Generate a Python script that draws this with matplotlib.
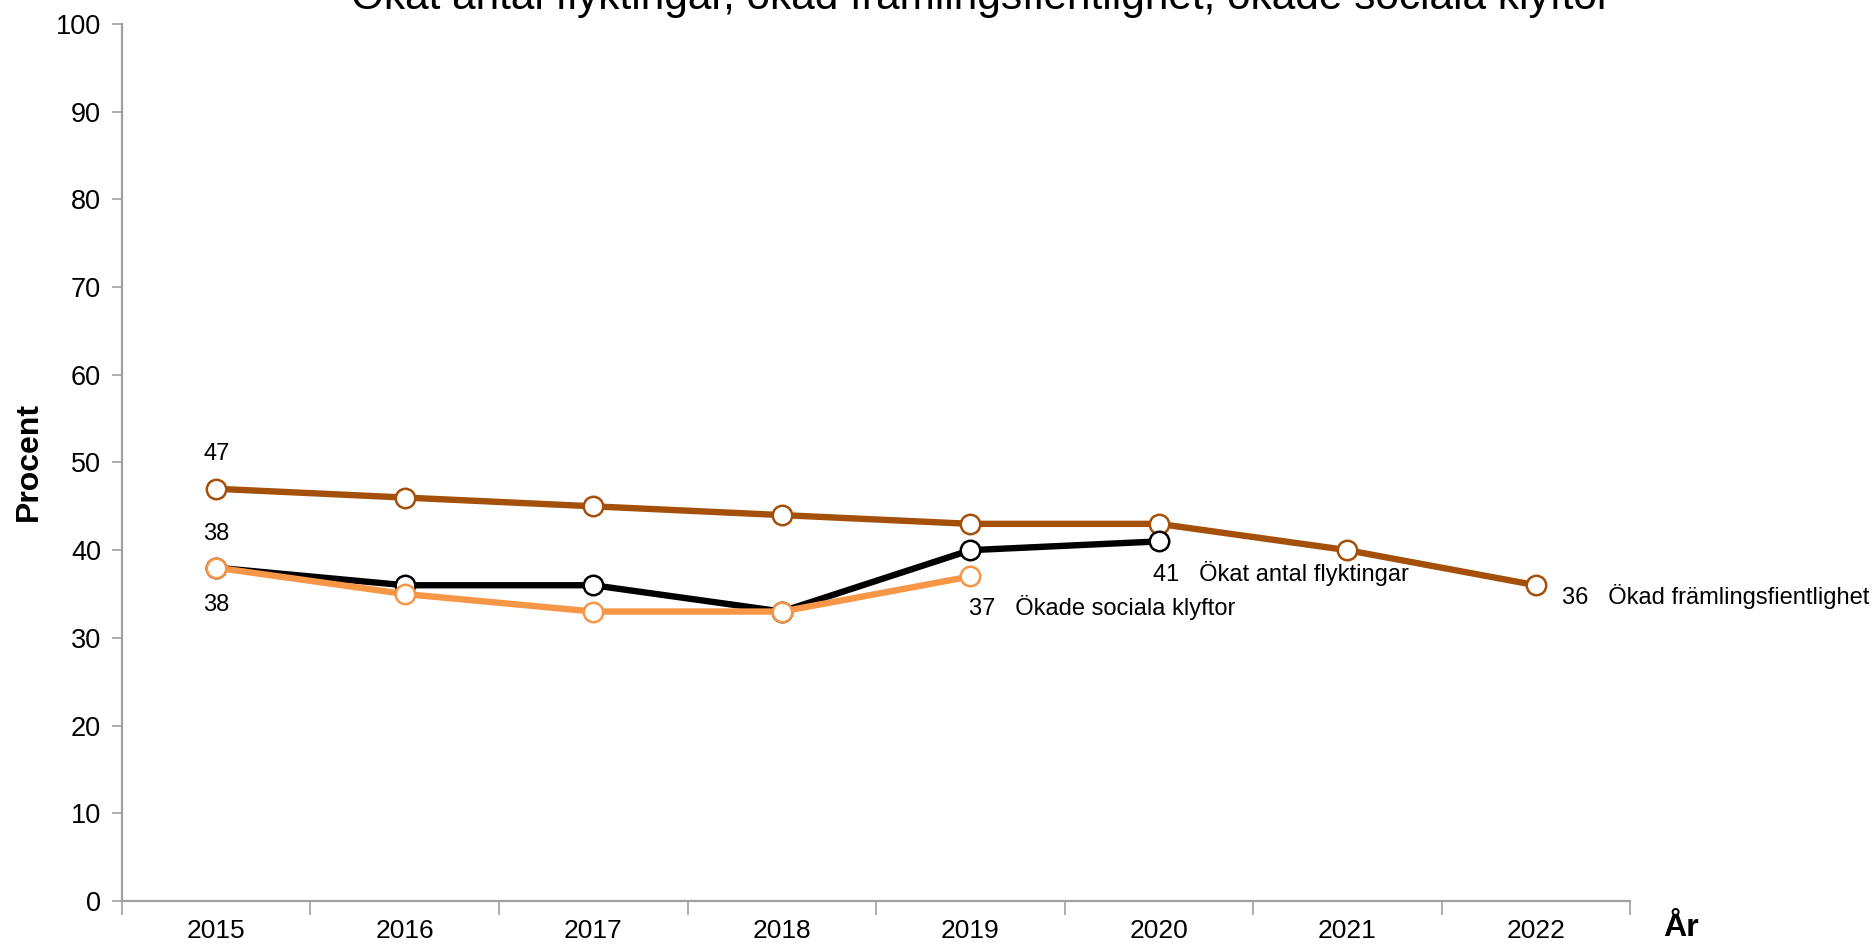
import matplotlib
matplotlib.use("Agg")
import matplotlib.pyplot as plt

plt.rcParams['font.family'] = ['Liberation Sans', 'DejaVu Sans']

# Data
years = ['2015', '2016', '2017', '2018', '2019', '2020', '2021', '2022']
framling = [47, 46, 45, 44, 43, 43, 40, 36]
flykt = [38, 36, 36, 33, 40, 41]
klyftor = [38, 35, 33, 33, 37]

c_framling = '#A5500A'
c_flykt = '#000000'
c_klyftor = '#F79646'
grey = '#A0A0A0'

fig = plt.figure(figsize=(18.76, 9.44), dpi=100)
ax = fig.add_axes([0.065, 0.0456, 0.804, 0.929])

x_all = list(range(len(years)))

def draw(vals, color, z):
    ax.plot(x_all[:len(vals)], vals, color=color, lw=4.6, marker='o', ms=14,
            mfc='white', mec=color, mew=1.8, zorder=z, clip_on=False)

draw(framling, c_framling, 3)
draw(flykt, c_flykt, 4)
draw(klyftor, c_klyftor, 5)

fs = 17
# Start labels
ax.annotate(str(framling[0]), (0, framling[0]), xytext=(0, 35), textcoords='offset pixels',
            ha='center', va='center', fontsize=fs)
ax.annotate(str(flykt[0]), (0, flykt[0]), xytext=(0, 34), textcoords='offset pixels',
            ha='center', va='center', fontsize=fs)
ax.annotate(str(klyftor[0]), (0, klyftor[0]), xytext=(0, -37), textcoords='offset pixels',
            ha='center', va='center', fontsize=fs)
# End labels
ax.annotate(f"{flykt[-1]}   Ökat antal flyktingar", (len(flykt) - 1, flykt[-1]),
            xytext=(-6, -32), textcoords='offset pixels', ha='left', va='center', fontsize=fs)
ax.annotate(f"{klyftor[-1]}   Ökade sociala klyftor", (len(klyftor) - 1, klyftor[-1]),
            xytext=(-1, -31), textcoords='offset pixels', ha='left', va='center', fontsize=fs)
ax.annotate(f"{framling[-1]}   Ökad främlingsfientlighet", (len(framling) - 1, framling[-1]),
            xytext=(26, -11), textcoords='offset pixels', ha='left', va='center', fontsize=fs,
            annotation_clip=False)

ax.set_xlim(-0.5, len(years) - 0.5)
ax.set_ylim(0, 100)
ax.set_yticks(range(0, 101, 10))
ax.set_xticks(x_all)
ax.set_xticklabels(years)
ax.set_xticks([i - 0.5 for i in range(len(years) + 1)], minor=True)
ax.tick_params(axis='x', which='major', length=0, pad=13, labelsize=19)
ax.tick_params(axis='x', which='minor', length=10, width=1.2, color=grey)
ax.tick_params(axis='y', length=7, width=1.2, color=grey, labelsize=19.5, pad=8)

for s in ['top', 'right']:
    ax.spines[s].set_visible(False)
for s in ['left', 'bottom']:
    ax.spines[s].set_color(grey)
    ax.spines[s].set_linewidth(1.6)

fig.text(0.0153, 0.511, 'Procent', fontsize=23, fontweight='bold', rotation=90,
         ha='center', va='center')
fig.text(0.896, 0.017, 'År', fontsize=23, fontweight='bold', ha='center', va='center')
fig.text(0.523, 0.9905, 'Ökat antal flyktingar, ökad främlingsfientlighet, ökade sociala klyftor',
         fontsize=30.5, ha='center', va='baseline')

fig.savefig('out.png', dpi=100)
